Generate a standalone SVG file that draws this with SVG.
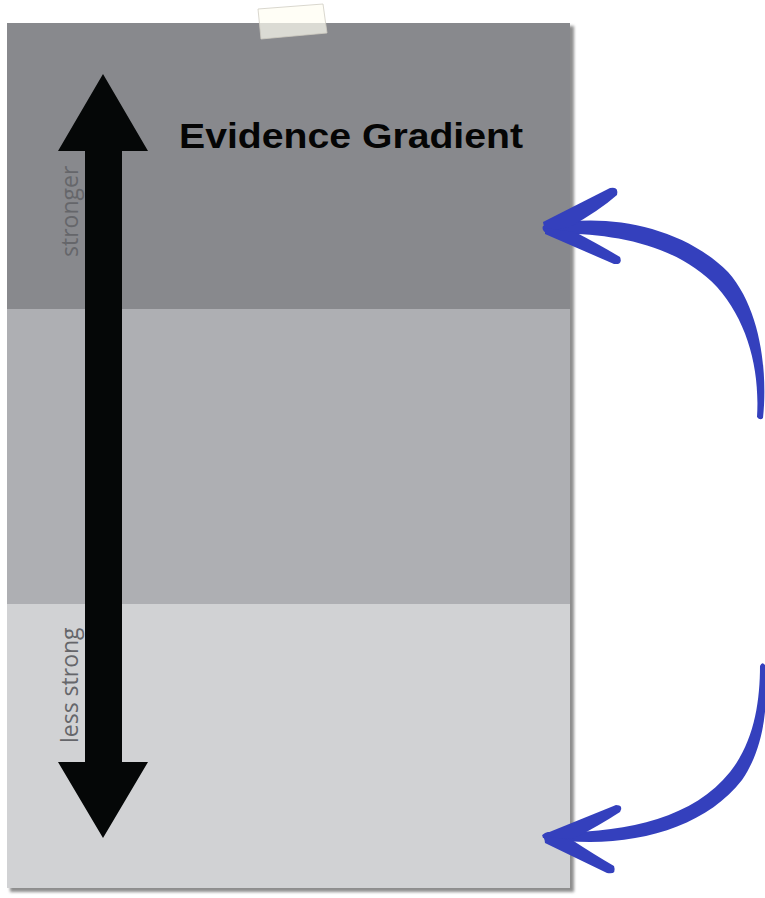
<svg xmlns="http://www.w3.org/2000/svg" width="765" height="898" viewBox="0 0 765 898">
  <defs>
    <filter id="blur" x="-5%" y="-5%" width="110%" height="110%">
      <feGaussianBlur stdDeviation="1.6"/>
    </filter>
    <style>
      .label { font-family: "Open Sans", "Noto Sans", "DejaVu Sans", sans-serif; font-size: 23px; font-weight: 400; fill: #65666a; }
      .title { font-family: "Liberation Sans", Arial, sans-serif; font-size: 35px; font-weight: bold; fill: #050505; }
      .blue { fill: #3440bd; }
    </style>
  </defs>
  <rect width="765" height="898" fill="#ffffff"/>

  <g id="paper">
    <rect x="10" y="26" width="564" height="866" fill="#8e8e8e" filter="url(#blur)"/>
    <rect id="band-strong" x="7" y="23" width="563" height="286" fill="#88898d"/>
    <rect id="band-middle" x="7" y="309" width="563" height="295" fill="#aeafb3"/>
    <rect id="band-weak" x="7" y="604" width="563" height="284" fill="#d1d2d4"/>
  </g>

  <g id="tape">
    <polygon points="258,9 323,4 327,33 261,39" fill="#fffdf2" fill-opacity="0.7" stroke="#cfcdc3" stroke-width="0.8"/>
  </g>

  <g id="gradient-arrow">
    <polygon points="103,74 148,151 122,151 122,762 148,762 103,838 58,762 85,762 85,151 58,151" fill="#050707"/>
  </g>

  <g id="title">
    <text class="title" x="179" y="148" textLength="344" lengthAdjust="spacingAndGlyphs">Evidence Gradient</text>
  </g>

  <g id="label-stronger">
    <text class="label" transform="translate(78,257) rotate(-90)">stronger</text>
  </g>
  <g id="label-less-strong">
    <text class="label" transform="translate(78,743) rotate(-90)">less strong</text>
  </g>

  <g id="connectors">
    <g id="arrow-top">
      <path class="blue" d="M 543 226 C 600 212 680 224 728 272 C 760 308 768 370 763 418 Q 760 421 757 417 C 760 370 748 322 717 287 C 675 242 605 232 548 234 Q 541 231 543 226 Z"/>
      <path class="blue" d="M 543 222 L 610 188 Q 619 186 617 195 Q 600 210 570 227 L 545 232 Z"/>
      <path class="blue" d="M 545 228 L 575 232 Q 600 245 620 257 Q 623 265 614 264 L 545 234 Z"/>
    </g>
    <g id="arrow-bottom">
      <path class="blue" d="M 543 838 C 620 851 702 832 742 780 C 766 745 768 700 765 665 Q 762 661 760 666 C 760 702 754 742 730 772 C 692 820 620 834 548 832 Q 541 834 543 838 Z"/>
      <path class="blue" d="M 542 835 L 616 805 Q 624 805 620 812 Q 600 825 575 838 L 545 840 Z"/>
      <path class="blue" d="M 544 836 L 572 840 Q 595 855 614 866 Q 617 875 607 873 L 545 843 Z"/>
    </g>
  </g>
</svg>
